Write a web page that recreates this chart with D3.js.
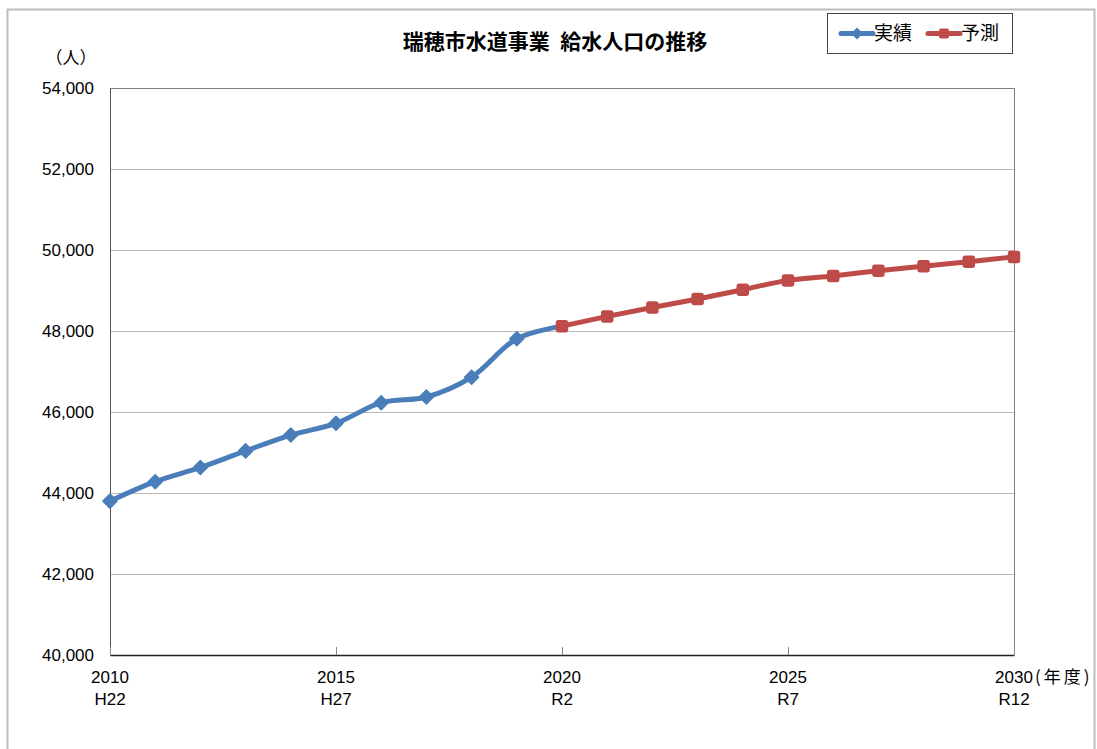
<!DOCTYPE html>
<html>
<head>
<meta charset="utf-8">
<script src="https://cdn.jsdelivr.net/npm/d3@7"></script>
<style>
  body { margin: 0; background: #fff; }
  svg text { font-family: "Liberation Sans", Arial, sans-serif; fill: #000; }
  .jp { font-family: "Noto Sans CJK JP", sans-serif; }
</style>
</head>
<body>
<svg id="chart" width="1097" height="749"></svg>
<script>
// 実績 (actual) and 予測 (forecast) water-supply population
let actualYears = [2010, 2011, 2012, 2013, 2014, 2015, 2016, 2017, 2018, 2019, 2020];
let actualValues = [43800, 44280, 44630, 45040, 45430, 45720, 46230, 46370, 46860, 47810, 48120];
let forecastYears = [2020, 2021, 2022, 2023, 2024, 2025, 2026, 2027, 2028, 2029, 2030];
let forecastValues = [48120, 48360, 48580, 48790, 49020, 49250, 49360, 49490, 49600, 49710, 49830];
let xTickYears = [2010, 2015, 2020, 2025, 2030];
let xTickEras = ["H22", "H27", "R2", "R7", "R12"];
let yTicks = [40000, 42000, 44000, 46000, 48000, 50000, 52000, 54000];

let svg = d3.select("svg#chart"),
    margin = {top: 88, right: 83, bottom: 94, left: 110},
    width = +svg.attr("width") - margin.left - margin.right,
    height = +svg.attr("height") - margin.top - margin.bottom;

// outer frame
svg.append("rect")
    .attr("x", 7.5).attr("y", 9.5)
    .attr("width", 1087).attr("height", 760)
    .attr("fill", "none")
    .attr("stroke", "#bdbdbd")
    .attr("stroke-width", 2);

let g = svg.append("g").attr("transform", "translate(" + margin.left + "," + margin.top + ")");

let x = d3.scaleLinear().domain([2010, 2030]).range([0, width]);
let y = d3.scaleLinear().domain([40000, 54000]).range([height, 0]);

// gridlines
g.append("g")
    .selectAll("line")
    .data(yTicks.slice(1))
    .join("line")
    .attr("x1", 0).attr("x2", width)
    .attr("y1", d => Math.round(y(d)) + 0.5).attr("y2", d => Math.round(y(d)) + 0.5)
    .attr("stroke", "#b8b8b8");

// plot border top / right
g.append("path")
    .attr("d", "M0.5,0.5H" + (width + 0.5) + "V" + height)
    .attr("fill", "none")
    .attr("stroke", "#808080");

// y axis
let yAxis = g.append("g")
    .call(d3.axisLeft(y).tickValues(yTicks).tickSize(0).tickPadding(16)
        .tickFormat(d3.format(",")));
yAxis.select(".domain").attr("stroke", "#555");
yAxis.selectAll("text").style("font-size", "17px").attr("font-family", "Liberation Sans, Arial, sans-serif");

// x axis (ticks pointing up)
let xAxis = g.append("g")
    .attr("transform", "translate(0," + height + ")")
    .call(d3.axisBottom(x).tickValues(xTickYears).tickSizeInner(-8).tickSizeOuter(0).tickFormat(""));
xAxis.select(".domain").attr("stroke", "#222").attr("stroke-width", 1.5);
xAxis.selectAll(".tick line").attr("stroke", "#888");

let xl = g.append("g").attr("transform", "translate(0," + height + ")");
xl.selectAll("text.yr")
    .data(xTickYears)
    .join("text")
    .attr("class", "yr")
    .attr("x", d => x(d)).attr("y", 28)
    .attr("text-anchor", "middle")
    .style("font-size", "17px")
    .text(d => d);
xl.selectAll("text.era")
    .data(xTickEras)
    .join("text")
    .attr("class", "era")
    .attr("x", (d, i) => x(xTickYears[i])).attr("y", 50)
    .attr("text-anchor", "middle")
    .style("font-size", "17px")
    .text(d => d);
xl.append("text")
    .attr("class", "jp")
    .attr("x", x(2030) + 21).attr("y", 28)
    .style("font-size", "17px")
    .style("letter-spacing", "3px")
    .text("(年度)");

// unit label
svg.append("text")
    .attr("class", "jp")
    .attr("x", 71).attr("y", 64)
    .attr("text-anchor", "middle")
    .style("font-size", "17px")
    .text("（人）");

// title
svg.append("text")
    .attr("class", "jp")
    .attr("x", 555).attr("y", 49)
    .attr("text-anchor", "middle")
    .style("font-size", "21px")
    .style("font-weight", "bold")
    .text("瑞穂市水道事業\u2002給水人口の推移");

let blue = "#4a7ebb", red = "#be4b48";

let line = d3.line()
    .x(d => x(d[0]))
    .y(d => y(d[1]))
    .curve(d3.curveCatmullRom.alpha(0.5));

let actual = actualYears.map((yr, i) => [yr, actualValues[i]]);
let forecast = forecastYears.map((yr, i) => [yr, forecastValues[i]]);

g.append("path")
    .datum(actual)
    .attr("d", line)
    .attr("fill", "none")
    .attr("stroke", blue)
    .attr("stroke-width", 5)
    .attr("stroke-linejoin", "round")
    .attr("stroke-linecap", "round");

g.selectAll("path.dia")
    .data(actual.slice(0, -1))
    .join("path")
    .attr("class", "dia")
    .attr("transform", d => "translate(" + x(d[0]) + "," + y(d[1]) + ")")
    .attr("d", "M0,-7L7,0L0,7L-7,0Z")
    .attr("fill", blue)
    .attr("stroke", blue)
    .attr("stroke-width", 1.5)
    .attr("stroke-linejoin", "round");

g.append("path")
    .datum(forecast)
    .attr("d", line)
    .attr("fill", "none")
    .attr("stroke", red)
    .attr("stroke-width", 5)
    .attr("stroke-linejoin", "round")
    .attr("stroke-linecap", "round");

g.selectAll("rect.sq")
    .data(forecast)
    .join("rect")
    .attr("class", "sq")
    .attr("x", d => x(d[0]) - 5.5).attr("y", d => y(d[1]) - 5.5)
    .attr("width", 11).attr("height", 11)
    .attr("rx", 2)
    .attr("fill", red)
    .attr("stroke", red)
    .attr("stroke-width", 1.5);

// legend
let leg = svg.append("g").attr("transform", "translate(827,13)");
leg.append("rect")
    .attr("x", 0.5).attr("y", 0.5)
    .attr("width", 185).attr("height", 40)
    .attr("fill", "#fff")
    .attr("stroke", "#444");
let legItems = [
    {name: "実績", color: blue, lx: 14},
    {name: "予測", color: red, lx: 101}
];
legItems.forEach(function(it, i) {
    leg.append("line")
        .attr("x1", it.lx).attr("x2", it.lx + 32)
        .attr("y1", 20.5).attr("y2", 20.5)
        .attr("stroke", it.color).attr("stroke-width", 5)
        .attr("stroke-linecap", "round");
    if (i === 0) {
        leg.append("path")
            .attr("transform", "translate(" + (it.lx + 16) + ",20.5)")
            .attr("d", "M0,-6L6,0L0,6L-6,0Z")
            .attr("fill", it.color);
    } else {
        leg.append("rect")
            .attr("x", it.lx + 11).attr("y", 15.5)
            .attr("width", 10).attr("height", 10).attr("rx", 2)
            .attr("fill", it.color);
    }
    leg.append("text")
        .attr("class", "jp")
        .attr("x", it.lx + 33).attr("y", 27)
        .style("font-size", "19px")
        .text(it.name);
});
</script>
</body>
</html>
